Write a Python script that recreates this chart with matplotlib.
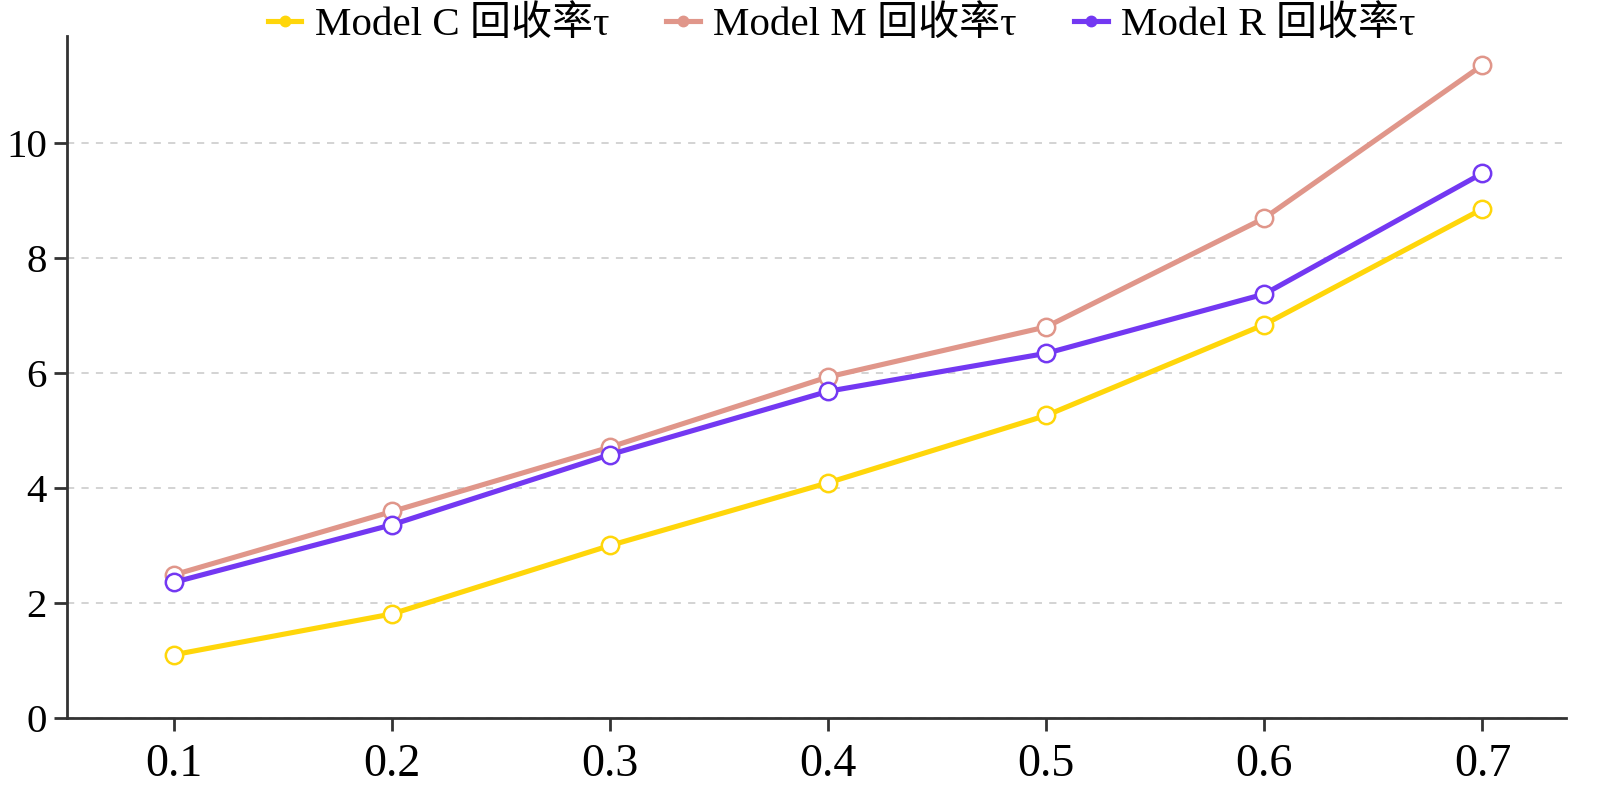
import matplotlib
matplotlib.use("Agg")
import matplotlib.pyplot as plt
from matplotlib.lines import Line2D

plt.rcParams['font.family'] = ['Liberation Serif', 'Noto Sans CJK SC', 'DejaVu Serif']

x = [0.1, 0.2, 0.3, 0.4, 0.5, 0.6, 0.7]
model_c = [1.10, 1.81, 3.00, 4.09, 5.26, 6.84, 8.85]
model_m = [2.49, 3.59, 4.71, 5.93, 6.80, 8.69, 11.35]
model_r = [2.36, 3.36, 4.58, 5.68, 6.34, 7.37, 9.47]
labels = ['Model C 回收率τ', 'Model M 回收率τ', 'Model R 回收率τ']
colors = ['#FFD60A', '#E0968A', '#7338F2']
yticks = [0, 2, 4, 6, 8, 10]
xticks = x

fig = plt.figure(figsize=(16, 7.86), dpi=100)
ax = fig.add_axes([0.042, 0.0865, 0.937, 0.868])

for series, col, lab in zip([model_c, model_m, model_r], colors, labels):
    ax.plot(x, series, color=col, lw=3.7, marker='o', markersize=12.5,
            markerfacecolor='white', markeredgecolor=col, markeredgewidth=1.8,
            label=lab, zorder=3)

ax.set_xlim(0.051, 0.7385)
ax.set_ylim(0, 11.86)
ax.set_xticks(xticks)
ax.set_xticklabels([f'{v:.1f}' for v in xticks])
ax.set_yticks(yticks)
ax.tick_params(axis='both', length=9.5, width=2, color='#333333')
ax.tick_params(axis='x', labelsize=33, pad=9)
ax.tick_params(axis='y', labelsize=29.5, pad=5)
ax.yaxis.grid(True, linestyle=(0, (4, 4)), color='#d0d0d0', lw=1.3)
ax.set_axisbelow(True)
for s in ['top', 'right']:
    ax.spines[s].set_visible(False)
for s in ['left', 'bottom']:
    ax.spines[s].set_color('#333333')
    ax.spines[s].set_linewidth(2)

handles = [Line2D([0], [0], color=c, lw=3.7, marker='o', markersize=7.5,
                  markerfacecolor=c, markeredgecolor=c) for c in colors]
fig.legend(handles, labels, loc='center', bbox_to_anchor=(0.526, 0.968), ncol=3,
           frameon=False, fontsize=29.5, handlelength=0.82, columnspacing=1.4,
           handletextpad=0.32)

fig.savefig('out.png', dpi=100, facecolor='white')
